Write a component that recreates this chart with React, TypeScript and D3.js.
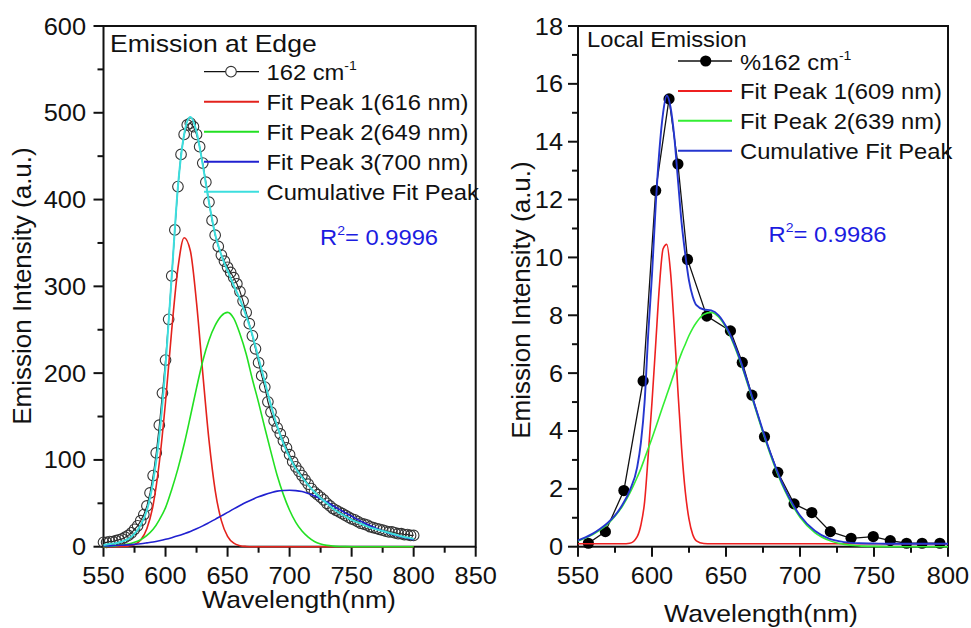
import React from 'react';
import * as d3 from 'd3';

const FONT = '"Liberation Sans", Arial, Helvetica, sans-serif';

// ---------- Left panel: Emission at Edge ----------
const edgeWavelength = [
  550, 552.5, 555, 557.5, 560, 562.5, 565, 567.5, 570, 572.5, 575, 577.5, 580, 582.5, 585, 587.5, 590, 592.5, 595, 597.5,
  600, 602.5, 605, 607.5, 610, 612.5, 615, 617.5, 620, 622.5, 625, 627.5, 630, 632.5, 635, 637.5, 640, 642.5, 645, 647.5,
  650, 652.5, 655, 657.5, 660, 662.5, 665, 667.5, 670, 672.5, 675, 677.5, 680, 682.5, 685, 687.5, 690, 692.5, 695, 697.5,
  700, 702.5, 705, 707.5, 710, 712.5, 715, 717.5, 720, 722.5, 725, 727.5, 730, 732.5, 735, 737.5, 740, 742.5, 745, 747.5,
  750, 752.5, 755, 757.5, 760, 762.5, 765, 767.5, 770, 772.5, 775, 777.5, 780, 782.5, 785, 787.5, 790, 792.5, 795, 797.5, 800,
];
const edgeIntensity = [
  5, 5, 6, 6, 7, 8, 9, 11, 13, 16, 20, 24, 30, 37, 47, 62, 82, 108, 140, 177,
  215, 262, 312, 365, 415, 452, 475, 486, 488, 484, 475, 461, 442, 420, 397, 376, 359, 346, 336, 329,
  322, 316, 310, 303, 294, 283, 270, 257, 243, 228, 212, 197, 184, 167, 155, 145, 137, 130, 122, 114,
  106, 98, 92, 87, 82, 77, 72, 67, 63, 60, 57, 54, 50, 47, 44, 42, 40, 38, 36, 34,
  32, 31, 29, 27, 26, 25, 23, 22, 21, 20, 19, 18, 17, 17, 16, 15, 15, 14, 14, 13, 13,
];
const edgeFitWavelength = [
  550, 555, 560, 565, 570, 575, 580, 585, 590, 595, 600, 605, 610, 615, 620, 625, 630, 635, 640, 645,
  650, 655, 660, 665, 670, 675, 680, 685, 690, 695, 700, 705, 710, 715, 720, 725, 730, 735, 740, 745,
  750, 755, 760, 765, 770, 775, 780, 785, 790, 795, 800,
];
const edgePeak1 = [
  0, 0, 0, 0.2, 0.7, 2.5, 7.7, 21, 48, 97, 167, 250, 321, 356, 341, 281, 200, 123, 65, 30,
  12, 4, 1.2, 0.3, 0, 0, 0, 0, 0, 0, 0, 0, 0, 0, 0, 0, 0, 0, 0, 0,
  0, 0, 0, 0, 0, 0, 0, 0, 0, 0, 0,
];
const edgePeak2 = [
  0, 0.5, 1, 2, 3, 5, 8, 13, 20, 31, 45, 66, 90, 118, 150, 183, 214, 238, 255, 266,
  270, 263, 245, 222, 193, 166, 137, 109, 82, 60, 42, 28, 18, 11, 6, 3.2, 1.5, 0.7, 0.3, 0.1,
  0, 0, 0, 0, 0, 0, 0, 0, 0, 0, 0,
];
const edgePeak3 = [
  0.8, 1.0, 1.3, 1.7, 2.1, 2.7, 3.4, 4.4, 5.5, 6.9, 8.5, 10.4, 12.5, 14.9, 17.5, 20.6, 24, 27.7, 31.5, 35.5,
  39.5, 43.6, 47.5, 51.2, 54.5, 57.5, 60, 62.2, 64, 64.8, 65, 64.6, 63.5, 61.3, 58.5, 55.2, 51.5, 47.3, 43, 39,
  35, 31.2, 27.5, 24.2, 21, 18.2, 15.5, 13.4, 11.5, 9.7, 8,
];
const edgeCumulative = [
  2, 3, 4, 6, 9, 15, 25, 42, 75, 128, 208, 312, 415, 475, 495, 478, 440, 397, 360, 336,
  318, 301, 285, 266, 244, 217, 190, 163, 139, 119, 103, 90, 80, 71, 63, 56, 50, 44, 39, 35,
  31, 28, 25, 22, 20, 18, 16, 14, 12, 10.5, 9,
];
const edgeXTicks = [550, 600, 650, 700, 750, 800, 850];
const edgeXMinor = [575, 625, 675, 725, 775, 825];
const edgeYTicks = [0, 100, 200, 300, 400, 500, 600];
const edgeYMinor = [50, 150, 250, 350, 450, 550];
const edgeLegend = ['162 cm', 'Fit Peak 1(616 nm)', 'Fit Peak 2(649 nm)', 'Fit Peak 3(700 nm)', 'Cumulative Fit Peak'];

// ---------- Right panel: Local Emission ----------
const localWavelength = [557, 568.5, 581, 594, 602.5, 611.5, 617.5, 624, 637, 653, 661, 667.5, 676, 685, 696, 708, 720.5, 734.5, 749.5, 761, 772, 782.5, 794.5];
const localIntensity = [0.12, 0.52, 1.94, 5.73, 12.31, 15.48, 13.23, 9.93, 7.97, 7.46, 6.37, 5.24, 3.8, 2.57, 1.48, 1.18, 0.52, 0.29, 0.35, 0.21, 0.12, 0.12, 0.12];
const localFitWavelength = [
  550, 555, 560, 565, 570, 575, 580, 585, 590,
  592.5, 595, 597.5, 600, 602.5, 605, 607.5, 610, 612.5, 615, 617.5, 620, 622.5, 625, 627.5, 630,
  635, 640, 645, 650, 655, 660, 665, 670, 675, 680, 685, 690, 695, 700,
  710, 720, 730, 740, 750, 760, 770, 780, 790, 800,
];
const localPeak1 = [
  0.1, 0.1, 0.1, 0.1, 0.1, 0.1, 0.1, 0.12, 0.35,
  0.75, 1.55, 3.2, 5.0, 7.0, 9.0, 10.3, 10.45, 9.5, 7.6, 5.4, 3.4, 1.9, 0.95, 0.42, 0.2,
  0.11, 0.1, 0.1, 0.1, 0.1, 0.1, 0.1, 0.1, 0.1, 0.1, 0.1, 0.1, 0.1, 0.1,
  0.1, 0.1, 0.1, 0.1, 0.1, 0.1, 0.1, 0.1, 0.1, 0.1,
];
const localPeak2 = [
  0.2, 0.3, 0.42, 0.58, 0.78, 1.05, 1.4, 1.85, 2.4,
  2.7, 3.05, 3.4, 3.75, 4.12, 4.5, 4.88, 5.25, 5.62, 6.0, 6.35, 6.7, 7.0, 7.3, 7.55, 7.75,
  8.03, 8.1, 7.94, 7.57, 7.02, 6.34, 5.56, 4.75, 3.94, 3.18, 2.5, 1.91, 1.42, 1.02,
  0.49, 0.21, 0.08, 0.03, 0.01, 0, 0, 0, 0, 0,
];
const localCumulative = [
  0.22, 0.32, 0.45, 0.62, 0.82, 1.08, 1.45, 1.95, 2.75,
  3.6, 5.0, 7.4, 9.4, 11.8, 13.7, 15.0, 15.6, 15.2, 14.2, 12.7, 11.2, 10.1, 9.2, 8.65, 8.35,
  8.2, 8.17, 8.0, 7.62, 7.08, 6.4, 5.62, 4.8, 4.0, 3.24, 2.56, 1.97, 1.48, 1.08,
  0.55, 0.27, 0.16, 0.12, 0.11, 0.1, 0.1, 0.1, 0.1, 0.1,
];
const localXTicks = [550, 600, 650, 700, 750, 800];
const localXMinor = [575, 625, 675, 725, 775];
const localYTicks = [0, 2, 4, 6, 8, 10, 12, 14, 16, 18];
const localYMinor = [1, 3, 5, 7, 9, 11, 13, 15, 17];
const localLegend = ['%162 cm', 'Fit Peak 1(609 nm)', 'Fit Peak 2(639 nm)', 'Cumulative Fit Peak'];

const SX = 1.08; // horizontal text stretch seen in the reference

function T(props: any) {
  const { x, y, size, anchor = 'start', fill = '#111', children, rotate } = props;
  const tr = rotate ? `translate(${x},${y}) rotate(-90)` : `translate(${x},${y}) scale(${SX},1)`;
  return (
    <text transform={tr} fontSize={size} fontFamily={FONT} textAnchor={anchor} fill={fill}>
      {children}
    </text>
  );
}

function Panel(props: any) {
  const { x0, x1, xDom, yDom, xTicks, xMinor, yTicks, yMinor, yLabelX, titleX, titleY, yTitleX, yTitleY, children } = props;
  const y0 = 546.7, y1 = 26;
  const x = d3.scaleLinear().domain(xDom).range([x0, x1]);
  const y = d3.scaleLinear().domain(yDom).range([y0, y1]);
  return (
    <g>
      <g stroke="#111" strokeWidth={2} fill="none">
        <rect x={x0} y={y1} width={x1 - x0} height={y0 - y1} />
        {xTicks.map((t: number) => <line key={'xt' + t} x1={x(t)} x2={x(t)} y1={y0} y2={y0 + 10} />)}
        {xMinor.map((t: number) => <line key={'xm' + t} x1={x(t)} x2={x(t)} y1={y0} y2={y0 + 6} />)}
        {yTicks.map((t: number) => <line key={'yt' + t} x1={x0 - 10} x2={x0} y1={y(t)} y2={y(t)} />)}
        {yMinor.map((t: number) => <line key={'ym' + t} x1={x0 - 6} x2={x0} y1={y(t)} y2={y(t)} />)}
      </g>
      {xTicks.map((t: number) => (
        <T key={'xl' + t} x={x(t)} y={583.5} size={23.5} anchor="middle">{String(t)}</T>
      ))}
      {yTicks.map((t: number) => (
        <T key={'yl' + t} x={yLabelX} y={y(t) + 8.5} size={23.5} anchor="end">{String(t)}</T>
      ))}
      <T x={titleX} y={titleY} size={24.6} anchor="middle">Wavelength(nm)</T>
      <T x={yTitleX} y={yTitleY} size={26} anchor="middle" rotate>Emission Intensity (a.u.)</T>
      {children(x, y)}
    </g>
  );
}

export default function App() {
  const lineXY = (xs: number[], ys: number[], x: any, y: any, curve: any) =>
    d3.line<number>().x((_, i) => x(xs[i])).y((v) => y(v)).curve(curve)(ys) || '';

  const edgeColors = ['#111', '#e3221c', '#22e022', '#2020d0', '#3cdede'];
  const localColors = ['#111', '#ee2020', '#33ee33', '#2536cf'];

  return (
    <svg width={971} height={628} style={{ position: 'absolute', left: 0, top: 0, background: '#fff' }}>
      {/* Left panel */}
      <Panel x0={103.5} x1={475.7} xDom={[550, 850]} yDom={[0, 600]} xTicks={edgeXTicks} xMinor={edgeXMinor}
        yTicks={edgeYTicks} yMinor={edgeYMinor} yLabelX={86} titleX={299} titleY={608} yTitleX={31} yTitleY={286}>
        {(x: any, y: any) => (
          <g>
            <path d={lineXY(edgeWavelength, edgeIntensity, x, y, d3.curveLinear)} fill="none" stroke="#222" strokeWidth={1.1} />
            {edgeWavelength.map((w, i) => (
              <circle key={'c' + i} cx={x(w)} cy={y(edgeIntensity[i])} r={5.3} fill="none" stroke="#333" strokeWidth={1.1} />
            ))}
            <path d={lineXY(edgeFitWavelength, edgePeak1, x, y, d3.curveMonotoneX)} fill="none" stroke={edgeColors[1]} strokeWidth={1.6} />
            <path d={lineXY(edgeFitWavelength, edgePeak2, x, y, d3.curveMonotoneX)} fill="none" stroke={edgeColors[2]} strokeWidth={1.6} />
            <path d={lineXY(edgeFitWavelength, edgePeak3, x, y, d3.curveMonotoneX)} fill="none" stroke={edgeColors[3]} strokeWidth={1.6} />
            <path d={lineXY(edgeFitWavelength, edgeCumulative, x, y, d3.curveMonotoneX)} fill="none" stroke={edgeColors[4]} strokeWidth={2} />
          </g>
        )}
      </Panel>
      <T x={110} y={52} size={24.6}>Emission at Edge</T>
      {edgeLegend.map((lab, i) => {
        const ly = 71.7 + i * 30;
        return (
          <g key={'el' + i}>
            <line x1={204} x2={259} y1={ly} y2={ly} stroke={edgeColors[i]} strokeWidth={i === 0 ? 1.2 : 2} />
            {i === 0 && <circle cx={231} cy={ly} r={5.3} fill="#fff" stroke="#333" strokeWidth={1.1} />}
            <T x={266.5} y={ly + 8.5} size={22}>
              {lab}
              {i === 0 && <tspan fontSize={13} dy={-10}>-1</tspan>}
            </T>
          </g>
        );
      })}
      <T x={320} y={244.5} size={22} fill="#1c1ce0">
        R<tspan fontSize={13} dy={-10}>2</tspan><tspan dy={10}>= 0.9996</tspan>
      </T>

      {/* Right panel */}
      <Panel x0={578} x1={948} xDom={[550, 800]} yDom={[0, 18]} xTicks={localXTicks} xMinor={localXMinor}
        yTicks={localYTicks} yMinor={localYMinor} yLabelX={563} titleX={761} titleY={622} yTitleX={530} yTitleY={300}>
        {(x: any, y: any) => (
          <g>
            <path d={lineXY(localWavelength, localIntensity, x, y, d3.curveLinear)} fill="none" stroke="#111" strokeWidth={1.3} />
            {localWavelength.map((w, i) => (
              <circle key={'d' + i} cx={x(w)} cy={y(localIntensity[i])} r={5.6} fill="#000" />
            ))}
            <path d={lineXY(localFitWavelength, localPeak1, x, y, d3.curveMonotoneX)} fill="none" stroke={localColors[1]} strokeWidth={1.6} />
            <path d={lineXY(localFitWavelength, localPeak2, x, y, d3.curveMonotoneX)} fill="none" stroke={localColors[2]} strokeWidth={1.6} />
            <path d={lineXY(localFitWavelength, localCumulative, x, y, d3.curveMonotoneX)} fill="none" stroke={localColors[3]} strokeWidth={1.9} />
          </g>
        )}
      </Panel>
      <T x={587} y={46.5} size={22}>Local Emission</T>
      {localLegend.map((lab, i) => {
        const ly = 61 + i * 29.9;
        return (
          <g key={'ll' + i}>
            <line x1={678} x2={732} y1={ly} y2={ly} stroke={localColors[i]} strokeWidth={i === 0 ? 1.5 : 2} />
            {i === 0 && <circle cx={705.7} cy={ly} r={5.6} fill="#000" />}
            <T x={740} y={ly + 8.5} size={22}>
              {lab}
              {i === 0 && <tspan fontSize={13} dy={-10}>-1</tspan>}
            </T>
          </g>
        );
      })}
      <T x={768.5} y={241.5} size={22} fill="#1c1ce0">
        R<tspan fontSize={13} dy={-10}>2</tspan><tspan dy={10}>= 0.9986</tspan>
      </T>
    </svg>
  );
}
